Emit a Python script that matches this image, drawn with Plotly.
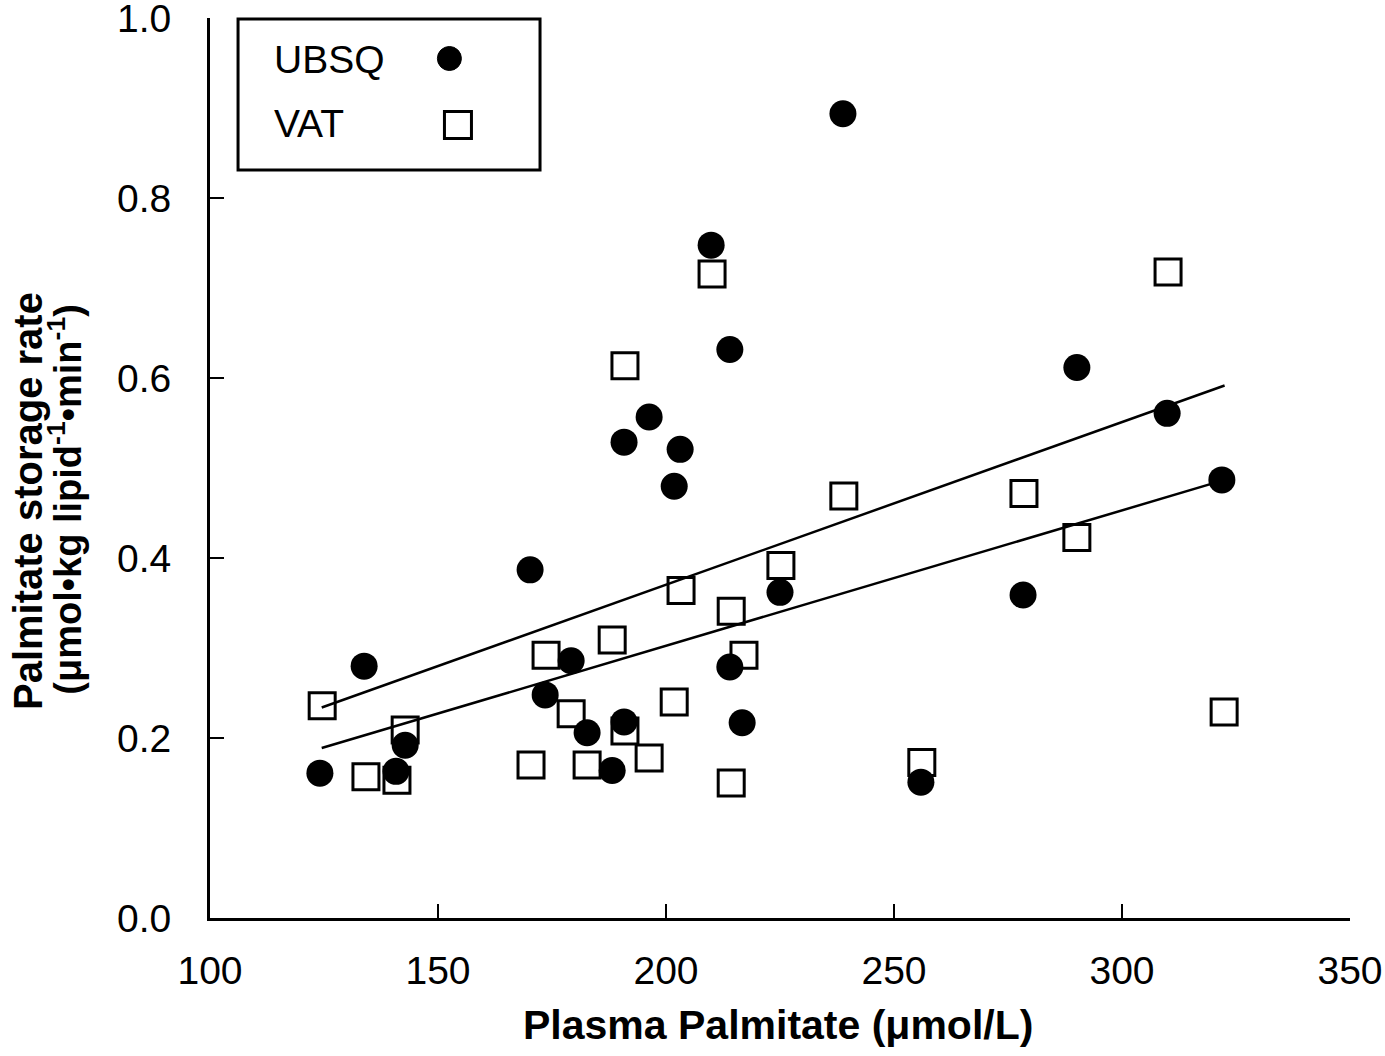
import plotly.graph_objects as go

# ---- data ----
plasma_palmitate = [124.1, 133.8, 140.8, 142.8, 170.2, 173.5, 179.2, 182.7, 188.2, 190.8,
                    190.8, 196.3, 201.8, 203.1, 209.9, 214.0, 214.0, 216.7, 225.0, 238.8,
                    255.9, 278.3, 290.1, 309.9, 321.9]
ubsq_rate = [0.161, 0.280, 0.163, 0.192, 0.387, 0.248, 0.286, 0.206, 0.164, 0.218,
             0.529, 0.557, 0.480, 0.521, 0.748, 0.632, 0.279, 0.217, 0.362, 0.894,
             0.151, 0.359, 0.612, 0.561, 0.487]

vat_x = [124.6, 134.2, 141.0, 142.8, 170.4, 173.7, 179.2, 182.7, 188.2, 191.0,
         191.0, 196.3, 201.8, 203.3, 210.1, 214.3, 214.3, 217.1, 225.2, 239.0,
         256.1, 278.5, 290.1, 310.1, 322.4]
vat_rate = [0.236, 0.157, 0.153, 0.209, 0.170, 0.292, 0.227, 0.170, 0.309, 0.208,
            0.614, 0.178, 0.240, 0.364, 0.716, 0.341, 0.150, 0.292, 0.392, 0.469,
            0.173, 0.472, 0.423, 0.718, 0.229]

fit_x = [124.5, 322.5]
ubsq_fit = [0.189, 0.487]
vat_fit = [0.234, 0.592]

x_ticks = [100, 150, 200, 250, 300, 350]
y_ticks = [0.0, 0.2, 0.4, 0.6, 0.8, 1.0]

TICK_FONT = "Liberation Sans, Arial, sans-serif"
TITLE_FONT = "Liberation Sans, Arial, sans-serif"

fig = go.Figure()

fig.add_trace(go.Scatter(
    x=vat_x, y=vat_rate, mode="markers", name="VAT",
    marker=dict(symbol="square", size=26, color="white",
                line=dict(color="black", width=3)),
    showlegend=False))

fig.add_trace(go.Scatter(
    x=fit_x, y=vat_fit, mode="lines", line=dict(color="black", width=2.5),
    showlegend=False))
fig.add_trace(go.Scatter(
    x=fit_x, y=ubsq_fit, mode="lines", line=dict(color="black", width=2.5),
    showlegend=False))

fig.add_trace(go.Scatter(
    x=plasma_palmitate, y=ubsq_rate, mode="markers", name="UBSQ",
    marker=dict(symbol="circle", size=27, color="black",
                line=dict(color="black", width=0)),
    showlegend=False))

fig.update_layout(
    width=1385, height=1056,
    margin=dict(l=210, r=35, t=18, b=138, autoexpand=False),
    paper_bgcolor="white", plot_bgcolor="white",
    font=dict(family=TICK_FONT, size=39, color="black"),
)

fig.update_xaxes(
    range=[100, 350], tickvals=x_ticks, ticktext=[str(v) for v in x_ticks],
    showgrid=False, zeroline=False, showline=True, linecolor="black", linewidth=3,
    ticks="inside", ticklen=14, tickwidth=2, tickcolor="black",
    tickfont=dict(family=TICK_FONT, size=39), ticklabelstandoff=16,
    automargin=False, ticklabeloverflow="allow",
)
fig.update_yaxes(
    range=[0, 1.0005], tickvals=y_ticks, ticktext=[f"{v:.1f}" for v in y_ticks],
    showgrid=False, zeroline=False, showline=True, linecolor="black", linewidth=3,
    ticks="inside", ticklen=14, tickwidth=2, tickcolor="black",
    tickfont=dict(family=TICK_FONT, size=39), ticklabelstandoff=28,
    automargin=False, ticklabeloverflow="allow",
)

# axis titles
fig.add_annotation(
    text="<b>Plasma Palmitate (μmol/L)</b>", xref="paper", yref="paper",
    x=0.498, y=-0.119, xanchor="center", yanchor="middle", showarrow=False,
    font=dict(family=TITLE_FONT, size=41, color="black"))
fig.add_annotation(
    text="<b>Palmitate storage rate</b>", xref="paper", yref="paper",
    x=-0.159, y=0.463, xanchor="center", yanchor="middle", showarrow=False,
    textangle=-90, font=dict(family=TITLE_FONT, size=40, color="black"))
fig.add_annotation(
    text="<b>(μmol•kg lipid<sup>-1</sup>•min<sup>-1</sup>)</b>", xref="paper", yref="paper",
    x=-0.127, y=0.465, xanchor="center", yanchor="middle", showarrow=False,
    textangle=-90, font=dict(family=TITLE_FONT, size=38, color="black"))

# legend box (drawn manually: symbols to the right of labels)
fig.add_shape(type="rect", xref="paper", yref="paper",
              x0=0.0246, x1=0.2895, y0=0.831, y1=0.999,
              line=dict(color="black", width=3), fillcolor="white", layer="below")
fig.add_annotation(text="UBSQ", xref="paper", yref="paper", x=0.0544, y=0.954,
                   xanchor="left", yanchor="middle", showarrow=False,
                   font=dict(family=TICK_FONT, size=39, color="black"))
fig.add_annotation(text="VAT", xref="paper", yref="paper", x=0.0544, y=0.883,
                   xanchor="left", yanchor="middle", showarrow=False,
                   font=dict(family=TICK_FONT, size=39, color="black"))
fig.add_shape(type="circle", xref="paper", yref="paper",
              xsizemode="pixel", ysizemode="pixel",
              xanchor=0.210, yanchor=0.955, x0=-12, x1=12, y0=-12, y1=12,
              fillcolor="black", line=dict(color="black", width=1))
fig.add_shape(type="rect", xref="paper", yref="paper",
              xsizemode="pixel", ysizemode="pixel",
              xanchor=0.2175, yanchor=0.881, x0=-13.5, x1=13.5, y0=-13.5, y1=13.5,
              fillcolor="white", line=dict(color="black", width=3))

fig.write_html("out.html", config={"displayModeBar": False},
               post_script="document.body.style.margin='0px';")
